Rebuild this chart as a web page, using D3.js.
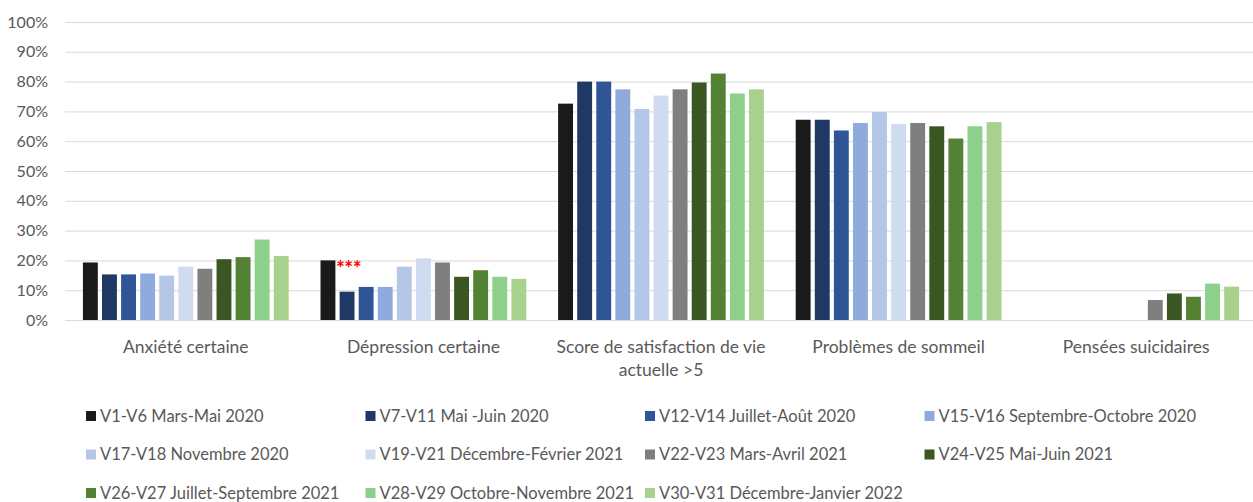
<!DOCTYPE html>
<html>
<head>
<meta charset="utf-8">
<script src="https://cdn.jsdelivr.net/npm/d3@7"></script>
<style>
  body { margin: 0; background: #fff; }
  svg { display: block; font-family: Lato, 'Open Sans', sans-serif; }
  .tick text { fill: #595959; }
</style>
</head>
<body>
<svg id="chart" width="1253" height="502"></svg>
<script>
const categories = [
  ['Anxiété certaine'],
  ['Dépression certaine'],
  ['Score de satisfaction de vie', 'actuelle >5'],
  ['Problèmes de sommeil'],
  ['Pensées suicidaires']
];
const seriesNames = [
  'V1-V6 Mars-Mai 2020',
  'V7-V11 Mai -Juin 2020',
  'V12-V14 Juillet-Août 2020',
  'V15-V16 Septembre-Octobre 2020',
  'V17-V18 Novembre 2020',
  'V19-V21 Décembre-Février 2021',
  'V22-V23 Mars-Avril 2021',
  'V24-V25 Mai-Juin 2021',
  'V26-V27 Juillet-Septembre 2021',
  'V28-V29 Octobre-Novembre 2021',
  'V30-V31 Décembre-Janvier 2022'
];
const seriesColors = ['#1a1a1a', '#1f3864', '#2f5597', '#8faadc', '#b4c7e7', '#cfdbef',
  '#7f7f7f', '#3a5723', '#548235', '#8cd08c', '#a9d18e'];
// values per series, one per category (null = no data)
const anxiete      = [19.3, 15.3, 15.3, 15.6, 14.9, 17.9, 17.2, 20.4, 21.1, 27.0, 21.5];
const depression   = [20.0, 9.5, 11.1, 11.1, 17.9, 20.7, 19.3, 14.5, 16.7, 14.5, 13.8];
const satisfaction = [72.6, 80.0, 80.0, 77.4, 70.8, 75.3, 77.4, 79.7, 82.7, 76.0, 77.4];
const sommeil      = [67.2, 67.2, 63.6, 66.1, 69.8, 65.8, 66.1, 65.0, 60.9, 65.0, 66.4];
const suicidaires  = [null, null, null, null, null, null, 6.7, 8.9, 7.8, 12.2, 11.2];
const yTicks = [0, 10, 20, 30, 40, 50, 60, 70, 80, 90, 100];

const groups = [anxiete, depression, satisfaction, sommeil, suicidaires];

const svg = d3.select('#chart');
const M = { left: 67, right: 1255, top: 22, bottom: 320 };

const x0 = d3.scaleBand()
  .domain(d3.range(categories.length))
  .range([M.left, M.right])
  .paddingInner(0.134)
  .paddingOuter(0.067);

const x1 = d3.scaleBand()
  .domain(d3.range(seriesNames.length))
  .range([0, x0.bandwidth()])
  .paddingInner(0.22);

const y = d3.scaleLinear().domain([0, 100]).range([M.bottom, M.top]);

// grid
svg.append('g')
  .selectAll('line')
  .data(yTicks)
  .join('line')
  .attr('x1', 65).attr('x2', 1253)
  .attr('y1', d => y(d) + 0.5).attr('y2', d => y(d) + 0.5)
  .attr('stroke', '#d9d9d9').attr('stroke-width', 1);

// y axis labels
const yAxis = svg.append('g')
  .attr('transform', 'translate(51,0)')
  .call(d3.axisLeft(y).tickValues(yTicks).tickFormat(d => d + '%').tickSize(0));
yAxis.select('.domain').remove();
yAxis.selectAll('text').attr('font-size', 16).attr('font-family', 'Lato, sans-serif');

// bars
const cat = svg.append('g')
  .selectAll('g')
  .data(groups)
  .join('g')
  .attr('transform', (d, i) => `translate(${x0(i)},0)`);

cat.selectAll('rect')
  .data(d => d.map((v, i) => ({ v, i })).filter(e => e.v != null))
  .join('rect')
  .attr('x', d => x1(d.i))
  .attr('width', x1.bandwidth())
  .attr('y', d => y(d.v))
  .attr('height', d => y(0) - y(d.v))
  .attr('fill', d => seriesColors[d.i]);

// annotation on depression first bar
svg.append('text')
  .attr('x', x0(1) + x1(0) + x1.bandwidth() + 0.5)
  .attr('y', y(depression[0]) + 16)
  .attr('fill', '#ff0000')
  .attr('font-size', 21)
  .attr('font-weight', 'bold')
  .attr('letter-spacing', -0.5)
  .text('***');

// category labels
const catLabels = svg.append('g')
  .selectAll('text')
  .data(categories)
  .join('text')
  .attr('x', (d, i) => x0(i) + x0.bandwidth() / 2)
  .attr('y', 353)
  .attr('text-anchor', 'middle')
  .attr('font-size', 17.5)
  .attr('fill', '#595959');
catLabels.selectAll('tspan')
  .data(d => d)
  .join('tspan')
  .attr('x', function () { return d3.select(this.parentNode).attr('x'); })
  .attr('dy', (d, i) => i === 0 ? 0 : 23)
  .text(d => d);

// legend
const legCols = 4, colW = 279.5, rowH = 38.5;
const leg = svg.append('g')
  .selectAll('g')
  .data(seriesNames)
  .join('g')
  .attr('transform', (d, i) => `translate(${86 + (i % legCols) * colW},${416 + Math.floor(i / legCols) * rowH})`);
leg.append('rect')
  .attr('x', 0).attr('y', -5).attr('width', 10).attr('height', 10)
  .attr('fill', (d, i) => seriesColors[i]);
leg.append('text')
  .attr('x', 14).attr('y', 0).attr('dy', '0.36em')
  .attr('font-size', 16.5)
  .attr('fill', '#595959')
  .text(d => d);
</script>
</body>
</html>
